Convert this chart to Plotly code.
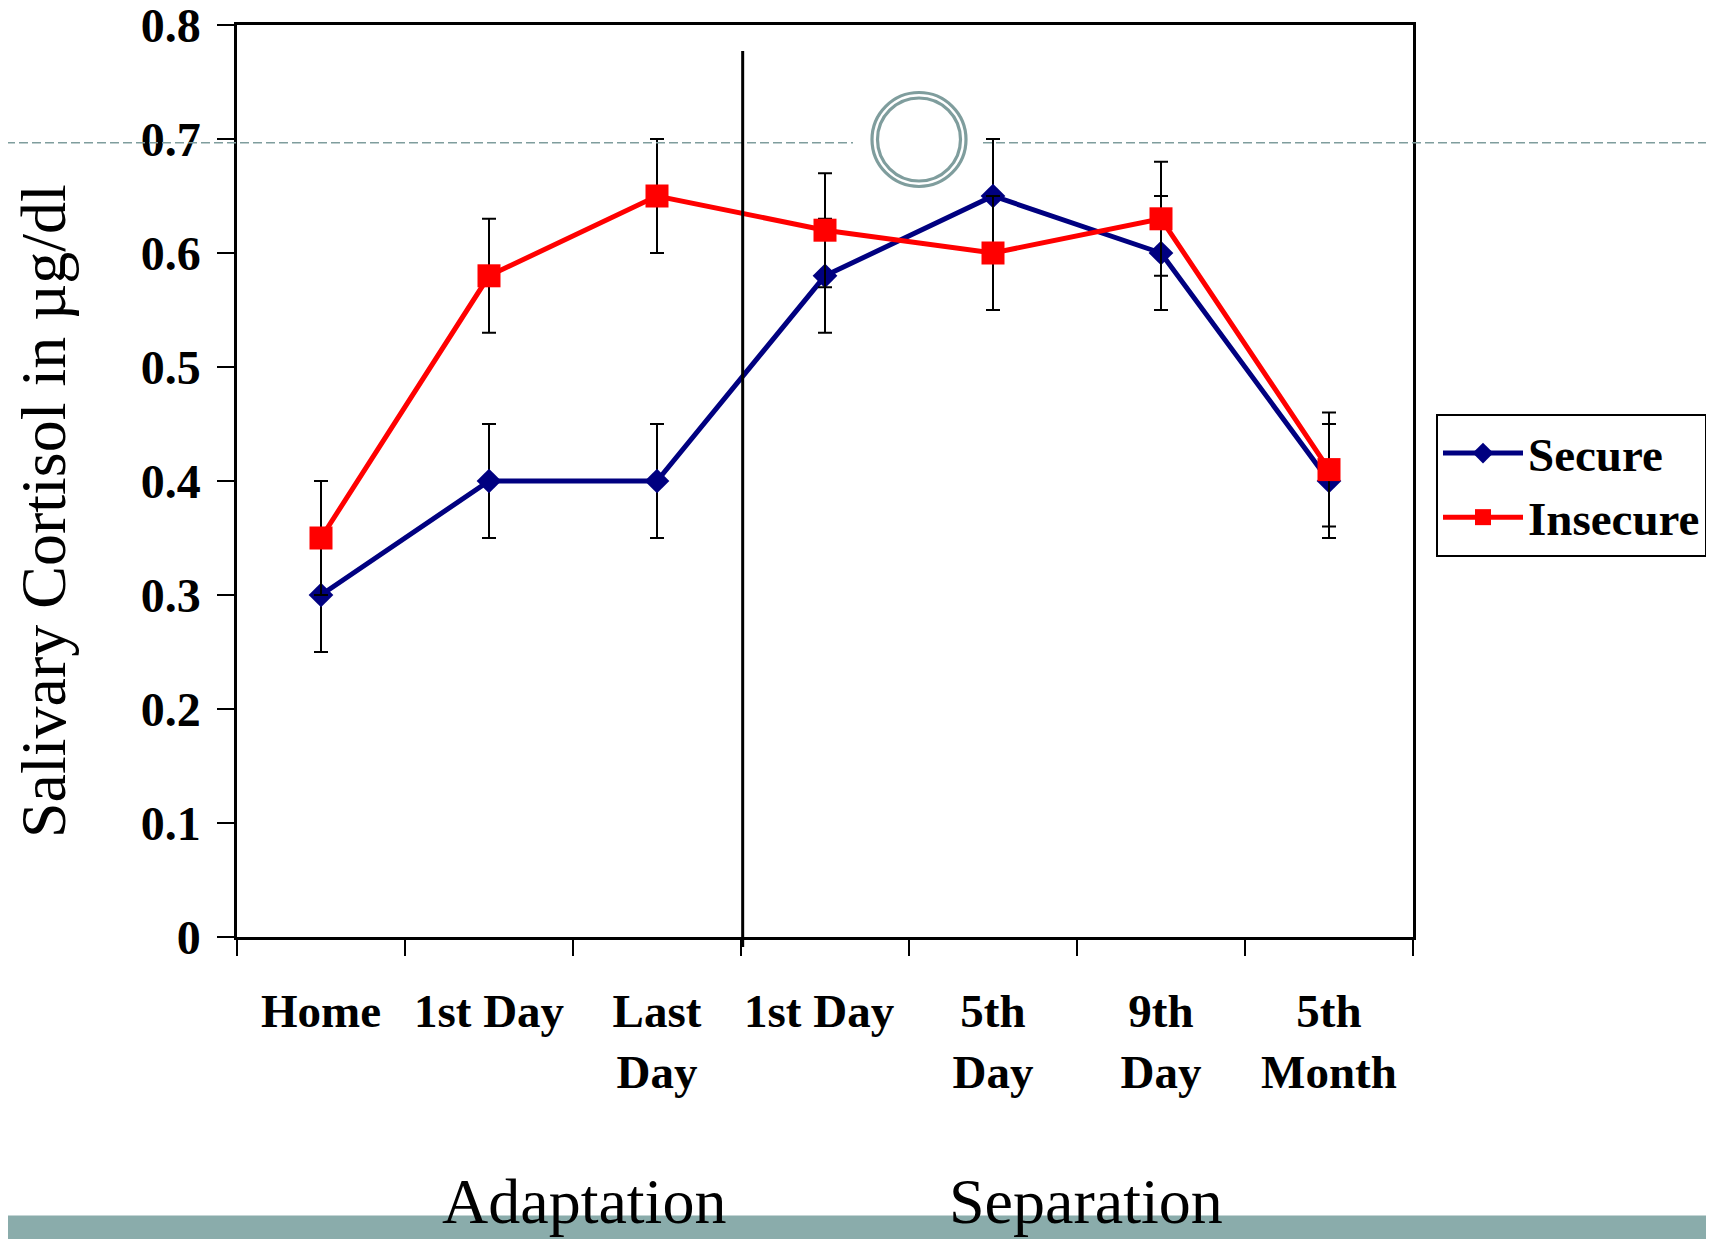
import plotly.graph_objects as go

categories = ["Home", "1st Day", "Last<br>Day", "1st Day ", "5th<br>Day", "9th<br>Day", "5th<br>Month"]
secure = [0.30, 0.40, 0.40, 0.58, 0.65, 0.60, 0.40]
secure_err = [0.05, 0.05, 0.05, 0.05, 0.05, 0.05, 0.05]
insecure = [0.35, 0.58, 0.65, 0.62, 0.60, 0.63, 0.41]
insecure_err = [0.05, 0.05, 0.05, 0.05, 0.05, 0.05, 0.05]
y_ticks = [0, 0.1, 0.2, 0.3, 0.4, 0.5, 0.6, 0.7, 0.8]
phase_labels = ["Adaptation", "Separation"]

OFF = 8  # browser default body margin
W, H = 1714 - OFF, 1239 - OFF
L, R, T, B = 237 - OFF, 1413 - OFF, 25 - OFF, 937 - OFF
PW, PH = R - L, B - T

def px(x):  # page pixel -> paper
    return (x - OFF - L) / PW

def py(y):
    return (B - (y - OFF)) / PH

SERIF = "Liberation Serif, Times New Roman, serif"
TEAL = "#7f9d9d"

fig = go.Figure()
fig.add_trace(go.Scatter(
    x=categories, y=secure, name="Secure", mode="lines+markers",
    line=dict(color="#000080", width=5),
    marker=dict(symbol="diamond", size=19, color="#000080", line=dict(width=0)),
    error_y=dict(type="data", array=secure_err, color="black", thickness=2, width=7),
))
fig.add_trace(go.Scatter(
    x=categories, y=insecure, name="Insecure", mode="lines+markers",
    line=dict(color="#ff0000", width=5),
    marker=dict(symbol="square", size=23, color="#ff0000", line=dict(width=0)),
    error_y=dict(type="data", array=insecure_err, color="black", thickness=2, width=7),
))

shapes = []
for x0, x1 in [(-20, 853), (983, 1714 + 20)]:
    shapes.append(dict(type="line", xref="paper", yref="paper",
                       x0=px(x0), x1=px(x1), y0=py(142.7), y1=py(142.7),
                       line=dict(color=TEAL, width=1.6, dash="9px,4px"), layer="above"))
for r in (47, 41.5):
    shapes.append(dict(type="circle", xref="paper", yref="paper",
                       x0=px(919 - r), x1=px(919 + r), y0=py(139.5 + r), y1=py(139.5 - r),
                       line=dict(color=TEAL, width=3.2), layer="above"))
shapes.append(dict(type="line", xref="x", yref="paper", x0=2.51, x1=2.51,
                   y0=py(947), y1=py(51), line=dict(color="black", width=3)))
shapes.append(dict(type="rect", xref="paper", yref="paper",
                   x0=px(-20), x1=px(1714 + 20), y0=py(1239 + 20), y1=py(1215.5),
                   fillcolor="#8aacab", line=dict(width=0), layer="below"))

annotations = [
    dict(text="Salivary Cortisol in µg/dl", xref="paper", yref="paper",
         x=px(43), y=py(511), textangle=-90, showarrow=False,
         font=dict(family=SERIF, size=64, color="black"), xanchor="center", yanchor="middle"),
    dict(text=phase_labels[0], xref="paper", yref="paper", x=px(584), y=py(1201),
         showarrow=False, font=dict(family=SERIF, size=64, color="black"),
         xanchor="center", yanchor="middle"),
    dict(text=phase_labels[1], xref="paper", yref="paper", x=px(1086), y=py(1201),
         showarrow=False, font=dict(family=SERIF, size=64, color="black"),
         xanchor="center", yanchor="middle"),
]

fig.update_layout(
    width=W, height=H,
    margin=dict(l=L, r=W - R, t=T, b=H - B, autoexpand=False),
    paper_bgcolor="white", plot_bgcolor="white",
    showlegend=True,
    legend=dict(xref="container", yref="container", x=(1436 - OFF) / W, y=1 - (414 - OFF) / H,
                xanchor="left", yanchor="top", bgcolor="white",
                bordercolor="black", borderwidth=2, itemwidth=80,
                font=dict(family=SERIF, size=47, color="black", weight="bold")),
    shapes=shapes, annotations=annotations,
)
fig.update_xaxes(
    type="category", range=[-0.5, 6.5], tickson="boundaries", tickangle=0,
    showline=True, linecolor="black", linewidth=2.5, mirror=True,
    ticks="outside", ticklen=16, tickwidth=2, tickcolor="black",
    showgrid=False, zeroline=False, ticklabelstandoff=31,
    tickfont=dict(family=SERIF, size=47, color="black", weight="bold"),
)
fig.update_yaxes(
    range=[0, 0.8], tickvals=y_ticks, ticktext=[f"{v:g}" for v in y_ticks],
    showline=True, linecolor="black", linewidth=2.5, mirror=True,
    ticks="outside", ticklen=17, tickwidth=2, tickcolor="black",
    showgrid=False, zeroline=False, ticklabelstandoff=7, ticklabeloverflow="allow",
    tickfont=dict(family=SERIF, size=48, color="black", weight="bold"),
)

fig.write_html("out.html")
